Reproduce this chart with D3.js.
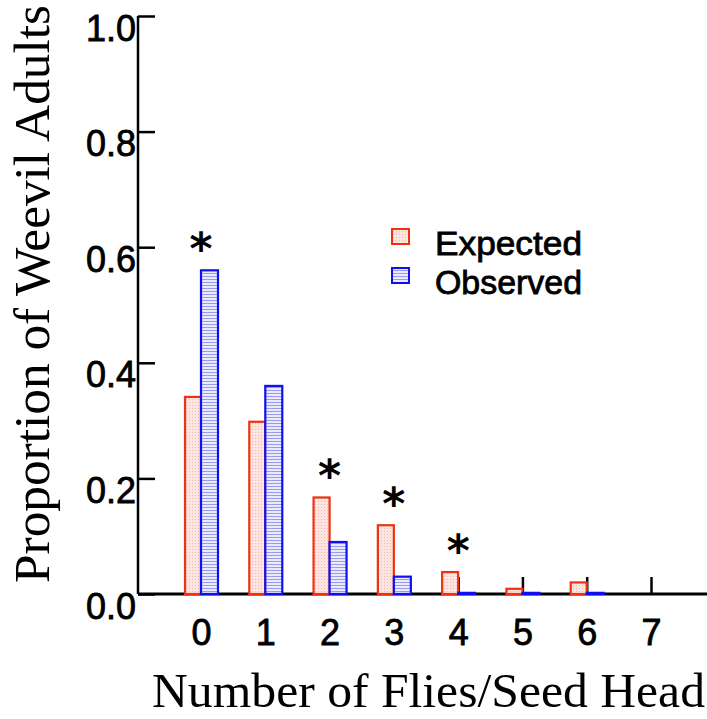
<!DOCTYPE html>
<html>
<head>
<meta charset="utf-8">
<script src="https://cdn.jsdelivr.net/npm/d3@7"></script>
<style>
  html, body { margin: 0; padding: 0; background: #fff; }
  svg { display: block; }
</style>
</head>
<body>
<svg id="chart" width="707" height="719"></svg>
<script>
// Flies per seed head (categories)
const categories = [0, 1, 2, 3, 4, 5, 6, 7];
// Proportion of weevil adults, expected vs observed
const expected = [0.341, 0.298, 0.167, 0.119, 0.038, 0.009, 0.020, 0.0];
const observed = [0.560, 0.360, 0.090, 0.030, 0.002, 0.002, 0.002, 0.0];
// Categories with a significant difference
const significant = [0, 2, 3, 4];
const yTicks = [0, 0.2, 0.4, 0.6, 0.8, 1.0];
const seriesNames = ["Expected", "Observed"];

const svg = d3.select("#chart");
const sans = "'Liberation Sans', Arial, sans-serif";
const serif = "'Liberation Serif', 'Times New Roman', serif";

const red = "#ee3210";
const blue = "#1010ee";

// Fill patterns: dotted pink for expected, horizontal stripes for observed
const defs = svg.append("defs");
const pDot = defs.append("pattern").attr("id", "dots")
  .attr("patternUnits", "userSpaceOnUse").attr("width", 3).attr("height", 3);
pDot.append("rect").attr("width", 3).attr("height", 3).attr("fill", "#fde6e2");
pDot.append("rect").attr("width", 1).attr("height", 1).attr("fill", "#f6b8ae");
const pStripe = defs.append("pattern").attr("id", "stripes")
  .attr("patternUnits", "userSpaceOnUse").attr("width", 4).attr("height", 3);
pStripe.append("rect").attr("width", 4).attr("height", 3).attr("fill", "#eaeafd");
pStripe.append("rect").attr("width", 4).attr("height", 1).attr("fill", "#9a9af2");

const x = d3.scalePoint().domain(categories).range([201, 651]);
const y = d3.scaleLinear().domain([0, 1]).range([594, 16]);
const barW = 16;
const axisLeftX = 138;

// Slightly heavier sans text
function heavy(sel) {
  sel.attr("fill", "#000").attr("stroke", "#000").attr("stroke-width", 0.8);
}

// X ticks (drawn beneath bars)
const xAxis = d3.axisBottom(x).tickSize(-17).tickFormat(d => d);
const gx = svg.append("g").attr("transform", `translate(0,${y(0)})`).call(xAxis);
gx.select(".domain").remove();
gx.selectAll(".tick line").attr("stroke", "#000").attr("stroke-width", 2.5);
gx.selectAll(".tick text")
  .attr("y", 51).attr("dy", null)
  .attr("font-family", sans).attr("font-size", 36).call(heavy);

// Y axis
const yAxis = d3.axisLeft(y).tickValues(yTicks).tickSize(-17).tickFormat(d3.format(".1f"));
const gy = svg.append("g").attr("transform", `translate(${axisLeftX},0)`).call(yAxis);
gy.select(".domain").remove();
gy.selectAll(".tick line").attr("stroke", "#000").attr("stroke-width", 2.5);
gy.selectAll(".tick text")
  .attr("x", -2).attr("dy", null).attr("y", 24)
  .attr("font-family", sans).attr("font-size", 36).call(heavy);

// Axis lines
svg.append("line").attr("x1", axisLeftX).attr("x2", axisLeftX)
  .attr("y1", y(1)).attr("y2", y(0)).attr("stroke", "#000").attr("stroke-width", 2.5);
svg.append("line").attr("x1", axisLeftX).attr("x2", 707)
  .attr("y1", y(0)).attr("y2", y(0)).attr("stroke", "#000").attr("stroke-width", 3);

// Bars
const bars = svg.append("g");
bars.selectAll(".exp").data(categories).join("rect")
  .attr("class", "exp")
  .attr("x", d => x(d) - barW)
  .attr("y", (d, i) => y(expected[i]))
  .attr("width", barW)
  .attr("height", (d, i) => y(0) - y(expected[i]))
  .attr("fill", "url(#dots)").attr("stroke", red).attr("stroke-width", 2.2)
  .style("display", (d, i) => expected[i] > 0 ? null : "none");
bars.selectAll(".obs").data(categories).join("rect")
  .attr("class", "obs")
  .attr("x", d => x(d))
  .attr("y", (d, i) => y(observed[i]))
  .attr("width", barW + 1)
  .attr("height", (d, i) => y(0) - y(observed[i]))
  .attr("fill", "url(#stripes)").attr("stroke", blue).attr("stroke-width", 2.2)
  .style("display", (d, i) => observed[i] > 0 ? null : "none");

// Significance markers
svg.append("g").selectAll("text").data(significant).join("text")
  .attr("x", d => x(d))
  .attr("y", d => y(Math.max(expected[d], observed[d]) + 0.045) + 20)
  .attr("text-anchor", "middle")
  .attr("font-family", "'DejaVu Sans', sans-serif").attr("font-weight", "bold").attr("font-size", 44)
  .text("*");

// Legend
const legend = svg.append("g");
const swatchFill = ["url(#dots)", "url(#stripes)"];
const swatchStroke = [red, blue];
seriesNames.forEach((name, i) => {
  const ly = 229 + i * 39;
  legend.append("rect").attr("x", 392).attr("y", ly).attr("width", 17).attr("height", 15)
    .attr("fill", swatchFill[i]).attr("stroke", swatchStroke[i]).attr("stroke-width", 2);
  legend.append("text").attr("x", 435).attr("y", ly + 26)
    .attr("font-family", sans).attr("font-size", 33)
    .attr("textLength", 147).attr("lengthAdjust", "spacingAndGlyphs")
    .call(heavy)
    .text(name);
});

// Axis titles
svg.append("text")
  .attr("transform", "translate(49,294) rotate(-90)")
  .attr("text-anchor", "middle")
  .attr("font-family", serif).attr("font-size", 50)
  .attr("textLength", 578).attr("lengthAdjust", "spacingAndGlyphs")
  .text("Proportion of Weevil Adults");
svg.append("text")
  .attr("x", 152).attr("y", 707)
  .attr("font-family", serif).attr("font-size", 48)
  .attr("textLength", 553).attr("lengthAdjust", "spacingAndGlyphs")
  .text("Number of Flies/Seed Head");
</script>
</body>
</html>
